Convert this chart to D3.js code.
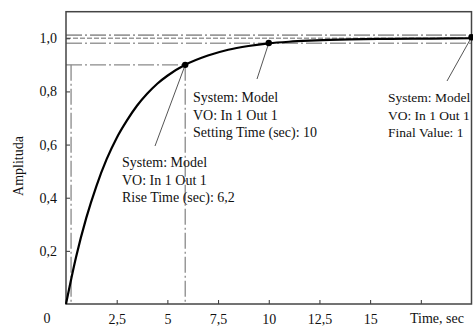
<!DOCTYPE html>
<html>
<head>
<meta charset="utf-8">
<script src="https://cdn.jsdelivr.net/npm/d3@7"></script>
<style>
  body { margin: 0; background: #fff; }
  text { font-family: "Liberation Serif", "DejaVu Serif", serif; fill: #111; }
</style>
</head>
<body>
<svg id="graph"></svg>
<script>
// Step response
var times  = [0, 0.5, 1, 1.5, 2, 2.5, 3, 3.5, 4, 4.5, 5, 5.88, 7, 8, 9, 10, 11, 12, 13, 14, 16, 18, 20];
var values = [0, 0.178, 0.324, 0.444, 0.544, 0.625, 0.69, 0.746, 0.791, 0.829, 0.859, 0.90, 0.935, 0.957, 0.971, 0.981, 0.987, 0.991, 0.994, 0.996, 0.998, 0.999, 1.0];

var xTicks = [2.5, 5, 7.5, 10, 12.5, 15, 17.5];
var yTicks = [0.2, 0.4, 0.6, 0.8, 1.0];

// characteristic points: rise, settling, final value
var markT = [5.88, 10, 20];
var markV = [0.90, 0.982, 1.004];
var riseStart = 0.25, riseLevel = 0.9;
var bandLevels = [1.012, 0.981];
var finalLevel = 1.0;

var notes = [
  ["System: Model", "VO: In 1 Out 1", "Rise Time (sec): 6,2"],
  ["System: Model", "VO: In 1 Out 1", "Setting Time (sec): 10"],
  ["System: Model", "VO: In 1 Out 1", "Final Value: 1"]
];

var W = 473, H = 327;
var svg = d3.select("#graph").attr("width", W).attr("height", H);

var x = d3.scaleLinear().domain([0, 20]).range([66, 471.5]);
var y = d3.scaleLinear().domain([0, 1.1]).range([304, 11.7]);

var comma = d => String(d).replace(".", ",");

// band lines around final value
bandLevels.forEach(function(v) {
  svg.append("line")
    .attr("x1", x(0)).attr("x2", x(20))
    .attr("y1", y(v)).attr("y2", y(v))
    .attr("stroke", "#9a9a9a").attr("stroke-width", 1.6)
    .attr("stroke-dasharray", "16,3,2,3");
});
svg.append("line")
  .attr("x1", x(0)).attr("x2", x(20))
  .attr("y1", y(finalLevel)).attr("y2", y(finalLevel))
  .attr("stroke", "#9a9a9a").attr("stroke-width", 1.4)
  .attr("stroke-dasharray", "5,2");

// rise time guides
var guide = "#8a8a8a";
svg.append("line")
  .attr("x1", x(0)).attr("x2", x(markT[0]))
  .attr("y1", y(riseLevel)).attr("y2", y(riseLevel))
  .attr("stroke", guide).attr("stroke-width", 1.3)
  .attr("stroke-dasharray", "16,3,2,3");
svg.append("line")
  .attr("x1", x(riseStart)).attr("x2", x(riseStart))
  .attr("y1", y(riseLevel)).attr("y2", y(0))
  .attr("stroke", guide).attr("stroke-width", 1.3)
  .attr("stroke-dasharray", "16,3,2,3");
svg.append("line")
  .attr("x1", x(markT[0])).attr("x2", x(markT[0]))
  .attr("y1", y(riseLevel)).attr("y2", y(0))
  .attr("stroke", guide).attr("stroke-width", 1.3)
  .attr("stroke-dasharray", "16,3,2,3");

// axes with inward ticks
svg.append("g")
  .attr("transform", "translate(0," + y(0) + ")")
  .call(d3.axisBottom(x).tickValues(xTicks).tickSize(-4).tickPadding(10)
    .tickFormat(d => d === 17.5 ? "" : comma(d)))
  .call(g => g.select(".domain").remove())
  .call(g => g.selectAll(".tick line").attr("stroke", "#333"))
  .call(g => g.selectAll("text").attr("font-size", 14).attr("font-family", "Liberation Serif").attr("fill", "#111"));

svg.append("g")
  .attr("transform", "translate(" + x(0) + ",0)")
  .call(d3.axisLeft(y).tickValues(yTicks).tickSize(-4).tickPadding(9)
    .tickFormat(d => d3.format(".1f")(d).replace(".", ",")))
  .call(g => g.select(".domain").remove())
  .call(g => g.selectAll(".tick line").attr("stroke", "#333"))
  .call(g => g.selectAll("text").attr("font-size", 14).attr("font-family", "Liberation Serif").attr("fill", "#111"));

// frame
svg.append("rect")
  .attr("x", x(0)).attr("y", y(1.1))
  .attr("width", x(20) - x(0)).attr("height", y(0) - y(1.1))
  .attr("fill", "none").attr("stroke", "#444").attr("stroke-width", 1.5);

svg.append("text").attr("x", 47).attr("y", 323).attr("text-anchor", "middle")
  .attr("font-size", 14).text("0");
svg.append("text").attr("x", 410).attr("y", 323)
  .attr("font-size", 14).text("Time, sec");
svg.append("text")
  .attr("transform", "translate(23,166) rotate(-90)")
  .attr("text-anchor", "middle").attr("font-size", 14).text("Amplituda");

// response curve
var pts = times.map((t, i) => [t, values[i]]);
svg.append("path")
  .datum(pts)
  .attr("fill", "none").attr("stroke", "#000").attr("stroke-width", 2.2)
  .attr("d", d3.line().x(d => x(d[0])).y(d => y(d[1])).curve(d3.curveMonotoneX));

// annotations: leader lines end at text boxes
var noteX = [122, 193, 388];
var noteY = [167, 102, 102];
var noteSize = [14, 14, 13.5];
var leadEnd = [[155, 146], [257, 79], [447, 81]];

markT.forEach(function(t, i) {
  svg.append("line")
    .attr("x1", x(t)).attr("y1", y(markV[i]))
    .attr("x2", leadEnd[i][0]).attr("y2", leadEnd[i][1])
    .attr("stroke", "#555").attr("stroke-width", 1);
  svg.append("circle")
    .attr("cx", x(t)).attr("cy", y(markV[i])).attr("r", 3.2)
    .attr("fill", "#000");
  notes[i].forEach(function(s, k) {
    svg.append("text")
      .attr("x", noteX[i]).attr("y", noteY[i] + k * 17.5)
      .attr("font-size", noteSize[i]).text(s);
  });
});
</script>
</body>
</html>
